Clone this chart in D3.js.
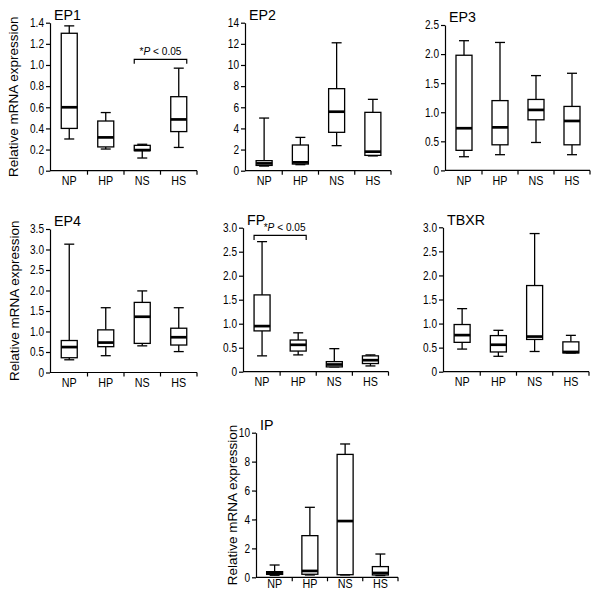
<!DOCTYPE html>
<html>
<head>
<meta charset="utf-8">
<script src="https://cdn.jsdelivr.net/npm/d3@7"></script>
<style>
  html, body { margin: 0; padding: 0; background: #fff; }
  svg { display: block; }
  text { font-family: "Liberation Sans", Arial, Helvetica, sans-serif; fill: #000; }
</style>
</head>
<body>
<svg id="chart" width="600" height="597"></svg>
<script>
// ---------- data ----------
const categories = ["NP", "HP", "NS", "HS"];
const yAxisTitle = "Relative mRNA expression";
const sigLabel = "P < 0.05";

// each entry: [whisker min, Q1, median, Q3, whisker max]
const ep1 = [[0.30, 0.40, 0.60, 1.30, 1.37], [0.205, 0.225, 0.315, 0.47, 0.55], [0.12, 0.19, 0.195, 0.24, 0.25], [0.22, 0.37, 0.485, 0.70, 0.97]];
const ep2 = [[0.44, 0.50, 0.69, 0.95, 4.98], [0.57, 0.63, 0.79, 2.43, 3.15], [2.37, 3.63, 5.58, 7.76, 12.1], [1.40, 1.45, 1.80, 5.52, 6.75]];
const ep3 = [[0.235, 0.345, 0.725, 1.98, 2.23], [0.27, 0.44, 0.74, 1.20, 2.20], [0.48, 0.87, 1.04, 1.22, 1.63], [0.27, 0.44, 0.85, 1.10, 1.67]];
const ep4 = [[0.31, 0.36, 0.62, 0.78, 3.13], [0.41, 0.63, 0.73, 1.04, 1.58], [0.65, 0.71, 1.36, 1.71, 1.99], [0.51, 0.67, 0.86, 1.08, 1.58]];
const fp = [[0.33, 0.85, 0.95, 1.60, 2.71], [0.35, 0.43, 0.56, 0.66, 0.81], [0.10, 0.10, 0.15, 0.21, 0.48], [0.12, 0.17, 0.24, 0.33, 0.35]];
const tbxr = [[0.47, 0.61, 0.76, 0.98, 1.31], [0.32, 0.41, 0.56, 0.75, 0.86], [0.42, 0.67, 0.73, 1.79, 2.87], [0.39, 0.39, 0.41, 0.62, 0.755]];
const ip = [[0.14, 0.20, 0.32, 0.39, 0.85], [0.16, 0.21, 0.44, 2.88, 4.84], [0.16, 0.18, 3.89, 8.50, 9.22], [0.12, 0.16, 0.30, 0.74, 1.61]];

const ep1Ticks = [0, 0.2, 0.4, 0.6, 0.8, 1.0, 1.2, 1.4];
const ep2Ticks = [0, 2, 4, 6, 8, 10, 12, 14];
const ep3Ticks = [0, 0.5, 1.0, 1.5, 2.0, 2.5];
const ep4Ticks = [0, 0.5, 1.0, 1.5, 2.0, 2.5, 3.0, 3.5];
const fpTicks = [0, 0.5, 1.0, 1.5, 2.0, 2.5, 3.0];
const tbxrTicks = [0, 0.5, 1.0, 1.5, 2.0, 2.5, 3.0];
const ipTicks = [0, 2, 4, 6, 8, 10];

const panelNames = ["EP1", "EP2", "EP3", "EP4", "FP", "TBXR", "IP"];
// significance brackets: [first category, second category, bracket value]
const ep1Sig = ["NS", "HS", 1.054];
const fpSig = ["NP", "HP", 2.84];

// ---------- layout ----------
const layout = {
  EP1:  {x0: 50,  x1: 197,   top: 22.7,  bottom: 170.7, data: ep1,  ticks: ep1Ticks,  dec: 1, ytitle: -36.5, sig: ep1Sig, sigDx: 0},
  EP2:  {x0: 245, x1: 391,   top: 22.7,  bottom: 170.7, data: ep2,  ticks: ep2Ticks,  dec: 0},
  EP3:  {x0: 445, x1: 590,   top: 25,    bottom: 170.4, data: ep3,  ticks: ep3Ticks,  dec: 1},
  EP4:  {x0: 50,  x1: 197,   top: 229,   bottom: 372.5, data: ep4,  ticks: ep4Ticks,  dec: 1, ytitle: -35.5},
  FP:   {x0: 243, x1: 388.5, top: 227.7, bottom: 371.7, data: fp,   ticks: fpTicks,   dec: 1, sig: fpSig, sigDx: 4.5},
  TBXR: {x0: 443, x1: 589,   top: 227.3, bottom: 371.7, data: tbxr, ticks: tbxrTicks, dec: 1},
  IP:   {x0: 256, x1: 398,   top: 432.7, bottom: 577.3, data: ip,   ticks: ipTicks,   dec: 0, ytitle: -23.5, labelOffset: 11}
};

// horizontal squeeze of text around its anchor x (the reference is slightly narrowed)
function squeeze(sel, k) {
  sel.each(function () {
    const t = d3.select(this);
    const ax = +t.attr("x") || 0;
    t.attr("transform", `translate(${ax},0) scale(${k},1) translate(${-ax},0)`);
  });
}

const svg = d3.select("#chart");

panelNames.forEach(name => {
  const L = layout[name];
  const g = svg.append("g");
  const y = d3.scaleLinear().domain([0, L.ticks[L.ticks.length - 1]]).range([L.bottom, L.top]);
  const x = d3.scaleBand().domain(categories).range([L.x0 + 1, L.x1]).paddingInner(0).paddingOuter(0);
  const bw = x.bandwidth();
  const boxW = 16, capW = 10;

  // y axis
  const fmt = d => d === 0 ? "0" : (L.dec ? d3.format(".1f")(d) : d3.format("d")(d));
  const yAxis = d3.axisLeft(y).tickValues(L.ticks).tickFormat(fmt).tickSize(4).tickPadding(2).tickSizeOuter(0);
  const ya = g.append("g").attr("transform", `translate(${L.x0},0)`).call(yAxis);
  ya.select(".domain").attr("stroke", "#000").attr("stroke-width", 1.2);
  ya.selectAll(".tick line").attr("stroke", "#000").attr("stroke-width", 1.2);
  const tt = ya.selectAll(".tick text").attr("font-size", 12).attr("fill", "#000")
    .attr("font-family", "Liberation Sans, Arial, sans-serif");
  squeeze(tt, 0.84);

  // x axis line
  g.append("line").attr("x1", L.x0).attr("x2", L.x1).attr("y1", L.bottom).attr("y2", L.bottom)
    .attr("stroke", "#000").attr("stroke-width", 1.2);
  // separator ticks
  categories.forEach(c => {
    const bx = x(c) + bw;
    g.append("line").attr("x1", bx).attr("x2", bx).attr("y1", L.bottom).attr("y2", L.bottom + 4)
      .attr("stroke", "#000").attr("stroke-width", 1.2);
  });
  // category labels
  categories.forEach(c => {
    const lt = g.append("text").attr("x", x(c) + bw / 2).attr("y", L.bottom + (L.labelOffset || 14.5))
      .attr("text-anchor", "middle").attr("font-size", 12.5).text(c);
    squeeze(lt, 0.86);
  });

  // title
  const tl = g.append("text").attr("x", L.x0 + 4).attr("y", L.top - 2.5).attr("font-size", 15.5).text(name);
  squeeze(tl, 0.92);

  // y title
  if (L.ytitle !== undefined) {
    const cy = (L.top + L.bottom) / 2;
    g.append("text").attr("transform", `translate(${L.x0 + L.ytitle},${cy}) rotate(-90)`)
      .attr("text-anchor", "middle").attr("dy", "0.35em").attr("font-size", 13.5).text(yAxisTitle);
  }

  // boxes
  categories.forEach((c, i) => {
    const [mn, q1, md, q3, mx] = L.data[i];
    const cx = x(c) + bw / 2;
    const bg = g.append("g").attr("stroke", "#000").attr("fill", "none");
    bg.append("line").attr("x1", cx).attr("x2", cx).attr("y1", y(q3)).attr("y2", y(mx)).attr("stroke-width", 1.3);
    bg.append("line").attr("x1", cx).attr("x2", cx).attr("y1", y(q1)).attr("y2", y(mn)).attr("stroke-width", 1.3);
    bg.append("line").attr("x1", cx - capW / 2).attr("x2", cx + capW / 2).attr("y1", y(mx)).attr("y2", y(mx)).attr("stroke-width", 1.3);
    bg.append("line").attr("x1", cx - capW / 2).attr("x2", cx + capW / 2).attr("y1", y(mn)).attr("y2", y(mn)).attr("stroke-width", 1.3);
    bg.append("rect").attr("x", cx - boxW / 2).attr("width", boxW)
      .attr("y", y(q3)).attr("height", Math.max(0.5, y(q1) - y(q3)))
      .attr("fill", "#fff").attr("stroke-width", 1.3);
    bg.append("line").attr("x1", cx - boxW / 2).attr("x2", cx + boxW / 2).attr("y1", y(md)).attr("y2", y(md)).attr("stroke-width", 2.7);
  });

  // significance bracket
  if (L.sig) {
    const [a, b, v] = L.sig;
    const xa = x(a) + bw / 2 - boxW / 2;
    const xb = x(b) + bw / 2 + boxW / 2;
    const yy = y(v);
    g.append("path").attr("d", `M${xa},${yy + 4.5}V${yy}H${xb}V${yy + 4.5}`)
      .attr("fill", "none").attr("stroke", "#000").attr("stroke-width", 1.2);
    const t = g.append("text").attr("x", (xa + xb) / 2 + L.sigDx).attr("y", yy - 4).attr("text-anchor", "middle").attr("font-size", 11.5);
    t.append("tspan").text("*");
    t.append("tspan").attr("font-style", "italic").text(sigLabel.split(" ")[0]);
    t.append("tspan").text(" " + sigLabel.split(" ").slice(1).join(" "));
    squeeze(t, 0.88);
  }
});
</script>
</body>
</html>
